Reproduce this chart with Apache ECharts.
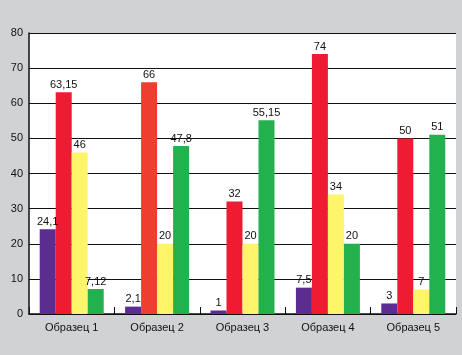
<!DOCTYPE html>
<html><head><meta charset="utf-8">
<script src="https://cdn.jsdelivr.net/npm/echarts@6/dist/echarts.min.js"></script>
<style>html,body{margin:0;padding:0;background:#d1d2d4;}#c{width:462px;height:355px;}</style>
</head><body><div id="c"></div>
<script>
var categories = ['Образец 1','Образец 2','Образец 3','Образец 4','Образец 5'];
var purpleValues = [24.1, 2.1, 1, 7.5, 3];
var redValues = [63.15, 66, 32, 74, 50];
var yellowValues = [46, 20, 20, 34, 7];
var greenValues = [7.12, 47.8, 55.15, 20, 51];
var yTicks = [0,10,20,30,40,50,60,70,80];

var font = 'Arial, "Liberation Sans", sans-serif';
function lbl(){
  return {show:true, position:'top', distance:2, color:'#111', fontSize:11, fontFamily:font,
    formatter:function(p){return String(p.value && p.value.value!==undefined?p.value.value:p.value).replace('.',',');}};
}
function mk(name, vals, color){
  return {name:name, type:'bar', data:vals.map(function(v){return v;}), barWidth:16, barGap:'0%',
    itemStyle:{color:color}, label:lbl()};
}
var redSeries = mk('r', redValues, '#ed1c33');
redSeries.data = redValues.map(function(v,i){return i===1?{value:v,itemStyle:{color:'#ee3e2f'}}:v;});
redSeries.label.formatter = function(p){return String(p.value).replace('.',',');};

var chart = echarts.init(document.getElementById('c'));
chart.setOption({
  backgroundColor:'#d1d2d4',
  animation:false,
  grid:{left:29, top:33, right:6, bottom:41, show:true, backgroundColor:'#ffffff', borderWidth:0},
  xAxis:{type:'category', data:categories,
    axisLine:{lineStyle:{color:'#111', width:1.5}},
    axisTick:{show:true, inside:true, length:7, lineStyle:{color:'#111'}},
    axisLabel:{color:'#111', fontSize:11, fontFamily:font, margin:8}},
  yAxis:{type:'value', min:0, max:80, interval:10,
    axisLine:{show:true, lineStyle:{color:'#111', width:1.5}},
    axisTick:{show:false},
    splitLine:{lineStyle:{color:'#111', width:1.2}},
    axisLabel:{color:'#111', fontSize:11, fontFamily:font, margin:6,
      formatter:function(v){return yTicks.indexOf(v)>=0?String(v):'';}}},
  series:[mk('p', purpleValues, '#5b2d90'), redSeries, mk('y', yellowValues, '#fff56b'), mk('g', greenValues, '#22b14c')]
});
</script></body></html>
